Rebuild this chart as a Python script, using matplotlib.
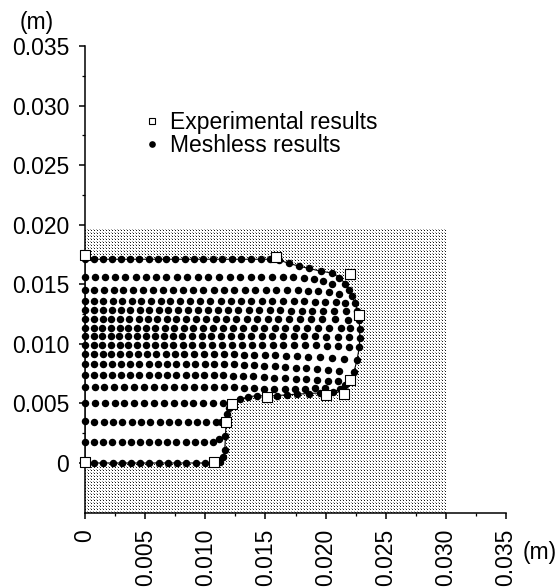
import matplotlib
matplotlib.use("Agg")
import matplotlib.pyplot as plt
import numpy as np
from matplotlib.lines import Line2D
from matplotlib.ticker import FixedLocator, FuncFormatter

plt.rcParams["font.family"] = ["Liberation Sans", "DejaVu Sans"]
FS = 16.5

# ---- node coordinates (mm) ----------------------------------------------

# outer boundary of the workpiece, walked round in order
bnd_x = [0, 0.77, 1.53, 2.3, 3.06, 3.83, 4.6, 5.36, 6.13, 6.9, 7.66, 8.43, 9.2, 9.96, 10.72,
         11.2, 11.5, 11.62, 11.68, 11.73, 11.8, 11.98, 12.18,
         12.9, 13.55, 14.3, 15.15, 16.0, 16.8, 17.65, 18.6, 19.5, 20.6, 21.2, 21.6, 21.95,
         22.35, 22.62, 22.8, 22.84, 22.84, 22.78, 22.65, 22.45, 22.2, 21.95, 21.65, 21.15,
         20.5, 19.6, 18.6, 17.8, 16.95, 16.1,
         15.35, 14.6, 13.8, 13.0, 12.2, 11.4, 10.6, 9.8, 9.03, 8.28, 7.52, 6.77, 6.03, 5.28,
         4.52, 3.75, 3.0, 2.25, 1.52, 0.75, 0,
         0, 0, 0, 0, 0, 0, 0, 0, 0, 0, 0, 0, 0, 0, 0]
bnd_y = [0, 0, 0, 0, 0, 0, 0, 0, 0, 0, 0, 0, 0, 0, 0.02,
         0.12, 0.5, 1.1, 2.3, 3.47, 4.15, 4.62, 5.0,
         5.35, 5.55, 5.65, 5.62, 5.66, 5.72, 5.78, 5.83, 5.88, 5.95, 6.2, 6.55, 6.95,
         7.62, 8.65, 9.72, 10.52, 11.28, 12.0, 12.75, 13.4, 14.0, 14.55, 15.05, 15.55,
         15.95, 16.1, 16.33, 16.52, 16.75, 17.05,
         17.1, 17.1, 17.1, 17.1, 17.1, 17.1, 17.1, 17.1, 17.1, 17.1, 17.1, 17.1, 17.1, 17.1,
         17.1, 17.1, 17.1, 17.1, 17.1, 17.1, 17.1,
         15.65, 14.52, 13.6, 12.8, 12.08, 11.37, 10.62, 9.9, 9.12, 8.3, 7.35, 6.38, 5.0, 3.5, 1.75]

# interior node rows, bottom to top
ra_x = [0.76, 1.52, 2.28, 3.04, 3.8, 4.56, 5.32, 6.08, 6.84, 7.6, 8.36, 9.12, 9.88, 10.62, 11.15]
ra_y = [1.75, 1.75, 1.75, 1.75, 1.75, 1.75, 1.75, 1.75, 1.75, 1.75, 1.75, 1.75, 1.75, 1.78, 2.0]

rb_x = [0.78, 1.55, 2.33, 3.1, 3.88, 4.65, 5.43, 6.2, 6.98, 7.75, 8.53, 9.3, 10.08, 10.85, 11.3]
rb_y = [3.48, 3.48, 3.48, 3.48, 3.48, 3.48, 3.48, 3.48, 3.48, 3.48, 3.48, 3.48, 3.48, 3.48, 3.48]

rc_x = [0.82, 1.64, 2.46, 3.28, 4.1, 4.92, 5.74, 6.56, 7.38, 8.2, 9.02, 9.84, 10.66, 11.45]
rc_y = [5.0, 5.0, 5.0, 5.0, 5.0, 5.0, 5.0, 5.0, 5.0, 5.0, 5.0, 5.0, 5.0, 5.0]

r12_x = [0.8, 1.62, 2.44, 3.26, 4.08, 4.9, 5.72, 6.55, 7.38, 8.2, 9.03, 9.86, 10.7, 11.53, 12.36,
         13.2, 14.05, 14.9, 15.75, 16.6, 17.45, 18.3, 19.15, 19.95]
r12_y = [6.38, 6.38, 6.38, 6.38, 6.38, 6.38, 6.38, 6.38, 6.38, 6.38, 6.38, 6.38, 6.38, 6.38, 6.38,
         6.33, 6.27, 6.22, 6.2, 6.2, 6.22, 6.25, 6.28, 6.32]

r11_x = [0.75, 1.5, 2.25, 3.0, 3.77, 4.53, 5.3, 6.06, 6.83, 7.6, 8.37, 9.14, 9.92, 10.7, 11.5,
         12.32, 13.15, 14.0, 14.85, 15.72, 16.6, 17.5, 18.4, 19.3, 20.2, 21.05]
r11_y = [7.35, 7.35, 7.35, 7.35, 7.35, 7.35, 7.35, 7.35, 7.35, 7.35, 7.35, 7.35, 7.35, 7.35, 7.35,
         7.33, 7.3, 7.26, 7.22, 7.17, 7.12, 7.07, 7.02, 6.97, 6.92, 6.88]

r10_x = [0.75, 1.5, 2.25, 3.0, 3.76, 4.52, 5.28, 6.05, 6.82, 7.6, 8.38, 9.17, 9.96, 10.76, 11.57,
         12.39, 13.22, 14.06, 14.91, 15.77, 16.64, 17.52, 18.41, 19.31, 20.22, 21.14]
r10_y = [8.3, 8.3, 8.3, 8.3, 8.3, 8.3, 8.3, 8.3, 8.3, 8.3, 8.3, 8.3, 8.3, 8.3, 8.3,
         8.28, 8.25, 8.21, 8.17, 8.12, 8.07, 8.01, 7.95, 7.88, 7.8, 7.72]

r9_x = [0.74, 1.47, 2.2, 2.94, 3.68, 4.42, 5.17, 5.93, 6.7, 7.48, 8.27, 9.07, 9.88, 10.7, 11.53, 12.37,
        13.22, 14.08, 14.95, 15.83, 16.72, 17.62, 18.55, 19.5, 20.5, 21.5]
r9_y = [9.12, 9.12, 9.12, 9.12, 9.12, 9.12, 9.12, 9.12, 9.12, 9.12, 9.12, 9.12, 9.12, 9.12, 9.12, 9.12,
        9.1, 9.08, 9.06, 9.03, 9.0, 8.96, 8.92, 8.87, 8.8, 8.73]

r8_x = [0.72, 1.44, 2.16, 2.88, 3.6, 4.33, 5.07, 5.82, 6.58, 7.35, 8.13, 8.92, 9.72, 10.53, 11.35,
        12.18, 13.02, 13.87, 14.73, 15.6, 16.48, 17.37, 18.27, 19.18, 20.1, 21.03, 21.95]
r8_y = [9.9, 9.9, 9.9, 9.9, 9.9, 9.9, 9.9, 9.9, 9.9, 9.9, 9.9, 9.9, 9.9, 9.9, 9.9,
        9.9, 9.9, 9.9, 9.9, 9.9, 9.9, 9.9, 9.9, 9.87, 9.83, 9.78, 9.74]

r7_x = [0.72, 1.43, 2.14, 2.85, 3.57, 4.3, 5.04, 5.79, 6.55, 7.32, 8.1, 8.89, 9.69, 10.5, 11.32,
        12.15, 12.99, 13.84, 14.7, 15.57, 16.45, 17.34, 18.24, 19.15, 20.07, 21.0, 21.93]
r7_y = [10.62, 10.62, 10.62, 10.62, 10.62, 10.62, 10.62, 10.62, 10.62, 10.62, 10.62, 10.62, 10.62,
        10.62, 10.62, 10.62, 10.62, 10.62, 10.62, 10.62, 10.62, 10.62, 10.62, 10.62, 10.61, 10.6, 10.58]

r6_x = [0.72, 1.44, 2.16, 2.88, 3.61, 4.35, 5.1, 5.86, 6.63, 7.41, 8.2, 9.0, 9.81, 10.63, 11.46,
        12.3, 13.15, 14.01, 14.88, 15.76, 16.65, 17.55, 18.46, 19.38, 20.31, 21.25, 22.0]
r6_y = [11.37, 11.37, 11.37, 11.37, 11.37, 11.37, 11.37, 11.37, 11.37, 11.37, 11.37, 11.37, 11.37,
        11.37, 11.37, 11.37, 11.37, 11.37, 11.37, 11.37, 11.37, 11.37, 11.37, 11.36, 11.35, 11.34, 11.33]

r5_x = [0.73, 1.46, 2.2, 2.94, 3.69, 4.45, 5.22, 6.0, 6.79, 7.59, 8.4, 9.22, 10.05, 10.88, 11.72,
        12.57, 13.43, 14.3, 15.18, 16.07, 16.97, 17.88, 18.8, 19.73, 20.75, 21.85]
r5_y = [12.08, 12.08, 12.08, 12.08, 12.08, 12.08, 12.08, 12.08, 12.08, 12.08, 12.08, 12.08, 12.08,
        12.08, 12.08, 12.08, 12.08, 12.08, 12.08, 12.08, 12.08, 12.08, 12.08, 12.07, 12.05, 12.02]

r4_x = [0.74, 1.49, 2.24, 3.0, 3.77, 4.55, 5.34, 6.13, 6.93, 7.74, 8.56, 9.38, 10.21, 11.05, 11.9,
        12.75, 13.61, 14.48, 15.35, 16.23, 17.12, 18.01, 18.91, 19.81, 20.72, 21.7]
r4_y = [12.8, 12.8, 12.8, 12.8, 12.8, 12.8, 12.8, 12.8, 12.8, 12.8, 12.8, 12.8, 12.8, 12.8, 12.8,
        12.8, 12.8, 12.8, 12.8, 12.8, 12.79, 12.78, 12.77, 12.76, 12.75, 12.74]

r3_x = [0.76, 1.53, 2.3, 3.08, 3.87, 4.67, 5.47, 6.28, 7.1, 7.92, 8.75, 9.58, 10.42, 11.27, 12.12,
        12.98, 13.84, 14.71, 15.58, 16.46, 17.34, 18.22, 19.1, 19.98, 20.85, 21.62]
r3_y = [13.6, 13.6, 13.6, 13.6, 13.6, 13.6, 13.6, 13.6, 13.6, 13.6, 13.6, 13.6, 13.6, 13.6, 13.6,
        13.6, 13.6, 13.6, 13.6, 13.6, 13.58, 13.56, 13.54, 13.51, 13.48, 13.45]

r2_x = [0.78, 1.57, 2.37, 3.17, 3.98, 4.8, 5.62, 6.45, 7.29, 8.13, 8.98, 9.83, 10.69, 11.55, 12.42,
        13.29, 14.16, 15.04, 15.92, 16.8, 17.67, 18.54, 19.4, 20.25, 21.1]
r2_y = [14.52, 14.52, 14.52, 14.52, 14.52, 14.52, 14.52, 14.52, 14.52, 14.52, 14.52, 14.52, 14.52,
        14.52, 14.52, 14.52, 14.52, 14.52, 14.52, 14.52, 14.5, 14.46, 14.4, 14.32, 14.22]

r1_x = [0.8, 1.65, 2.5, 3.35, 4.2, 5.05, 5.9, 6.76, 7.62, 8.5, 9.38, 10.26, 11.14, 12.02, 12.9,
        13.78, 14.66, 15.54, 16.42, 17.3, 18.17, 19.02, 19.82, 20.55]
r1_y = [15.65, 15.65, 15.65, 15.65, 15.65, 15.65, 15.65, 15.65, 15.65, 15.65, 15.65, 15.65, 15.65,
        15.65, 15.65, 15.65, 15.65, 15.65, 15.65, 15.62, 15.56, 15.46, 15.3, 15.05]

# measured profile
exp_x = [0, 15.84, 22.0, 22.76, 22.0, 21.51, 20.05, 15.14, 12.18, 11.73, 10.71, 0]
exp_y = [17.46, 17.29, 15.89, 12.45, 6.99, 5.82, 5.73, 5.51, 4.98, 3.47, 0.05, 0.05]

# die (shaded) and axis ranges, m
die_x = [0, 0.030]
die_y = [-0.0042, 0.0197]
x_ticks = [0, 0.005, 0.010, 0.015, 0.020, 0.025, 0.030, 0.035]
x_minor = [0.0025, 0.0075, 0.0125, 0.0175, 0.0225, 0.0275, 0.0325]
y_ticks = [0, 0.005, 0.010, 0.015, 0.020, 0.025, 0.030, 0.035]
y_minor = [0.0025, 0.0075, 0.0125, 0.0175, 0.0225, 0.0275, 0.0325]

rows_x = [ra_x, rb_x, rc_x, r12_x, r11_x, r10_x, r9_x, r8_x, r7_x, r6_x, r5_x, r4_x, r3_x, r2_x, r1_x]
rows_y = [ra_y, rb_y, rc_y, r12_y, r11_y, r10_y, r9_y, r8_y, r7_y, r6_y, r5_y, r4_y, r3_y, r2_y, r1_y]

mm = 1e-3
bx = np.array(bnd_x) * mm
by = np.array(bnd_y) * mm
nx = np.concatenate([bx] + [np.array(r) * mm for r in rows_x])
ny = np.concatenate([by] + [np.array(r) * mm for r in rows_y])

# ---- figure --------------------------------------------------------------
W, H = 558, 588
fig = plt.figure(figsize=(W / 100, H / 100), dpi=100)
ax_l, ax_b, ax_w, ax_h = 85, 75, 421, 467
ax = fig.add_axes([ax_l / W, ax_b / H, ax_w / W, ax_h / H])
xlim = (0, 0.035)
ylim = (-0.0042, 0.035)

# stippled die: staggered dot texture sized to the screen pixels it covers
sw = int(round((die_x[1] - die_x[0]) / (xlim[1] - xlim[0]) * ax_w))
sh = int(round((die_y[1] - die_y[0]) / (ylim[1] - ylim[0]) * ax_h))
tex = np.ones((sh, sw))
ii, jj = np.mgrid[0:sh, 0:sw]
tex[(ii % 3 == 0) & (jj % 3 == 0)] = 0.1
tex[(ii % 3 == 1) & (jj % 3 == 2)] = 0.65
ax.imshow(tex, cmap="gray", vmin=0, vmax=1, extent=(die_x[0], die_x[1], die_y[0], die_y[1]),
          origin="lower", interpolation="nearest", aspect="auto", zorder=0)

# workpiece cut out of the die, its outline and the nodes
ax.fill(bx, by, color="white", zorder=1, lw=0)
ax.plot(np.append(bx, bx[0]), np.append(by, by[0]), color="black", lw=0.8, zorder=2)
ax.scatter(nx, ny, s=29, color="black", lw=0, zorder=3, clip_on=False)
ax.scatter(np.array(exp_x) * mm, np.array(exp_y) * mm, marker="s", s=42, facecolor="white",
           edgecolor="black", lw=0.8, zorder=4, clip_on=False)

ax.set_xlim(*xlim)
ax.set_ylim(*ylim)

for side in ("top", "right"):
    ax.spines[side].set_visible(False)
for side in ("left", "bottom"):
    ax.spines[side].set_linewidth(1.1)

fmt = FuncFormatter(lambda v, p: "0" if abs(v) < 1e-9 else f"{v:.3f}")
ax.xaxis.set_major_locator(FixedLocator(x_ticks))
ax.xaxis.set_minor_locator(FixedLocator(x_minor))
ax.yaxis.set_major_locator(FixedLocator(y_ticks))
ax.yaxis.set_minor_locator(FixedLocator(y_minor))
ax.xaxis.set_major_formatter(fmt)
ax.yaxis.set_major_formatter(fmt)
ax.tick_params(which="major", direction="out", length=4.5, width=1.1, labelsize=FS, pad=7)
ax.tick_params(which="minor", direction="out", length=2.3, width=0.9)
plt.setp(ax.get_xticklabels(), rotation=90)

fig.text(37 / W, 1 - 22 / H, "(m)", fontsize=FS, ha="center", va="center")
fig.text(540 / W, 1 - 552 / H, "(m)", fontsize=FS, ha="center", va="center")

handles = [
    Line2D([], [], ls="none", marker="s", ms=3.8, mfc="white", mec="black", mew=0.8),
    Line2D([], [], ls="none", marker="o", ms=4.8, mfc="black", mec="black", mew=0),
]
ax.legend(handles, ["Experimental results", "Meshless results"], loc="upper left",
          bbox_to_anchor=(143 / W, 1 - 111 / H), bbox_transform=fig.transFigure,
          frameon=False, fontsize=FS, handlelength=0.8, handletextpad=0.4,
          labelspacing=0.0, borderpad=0, borderaxespad=0)

fig.savefig("out.png", dpi=100)
